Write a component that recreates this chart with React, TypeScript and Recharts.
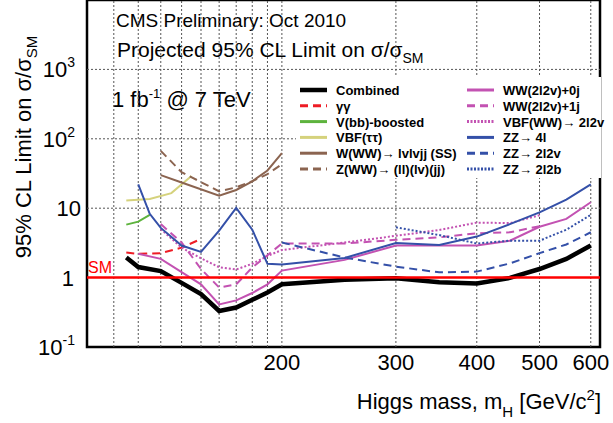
import React from "react";
import {
  LineChart,
  Line,
  XAxis,
  YAxis,
  ReferenceLine,
  ReferenceArea,
  Legend,
  Customized,
} from "recharts";

// Higgs mass points (GeV) and 95% CL limits on sigma/sigma_SM
const combinedMass = [115, 120, 130, 140, 150, 160, 170, 180, 190, 200, 250, 300, 350, 400, 450, 500, 550, 600];
const combinedLimit = [1.95, 1.42, 1.24, 0.84, 0.58, 0.33, 0.37, 0.48, 0.61, 0.8, 0.93, 0.98, 0.86, 0.82, 0.99, 1.33, 1.86, 2.9];

const ggMass = [115, 120, 130, 140, 150];
const ggLimit = [2.3, 2.2, 2.25, 2.7, 3.6];

const vbbMass = [115, 120, 125];
const vbbLimit = [5.8, 6.4, 8.0];

const vbfTauMass = [115, 125, 135, 145];
const vbfTauLimit = [12.9, 13.6, 16.5, 29];

const wwSSMass = [130, 140, 160, 170, 180, 190, 200];
const wwSSLimit = [30, 23.5, 15.2, 18.3, 24.4, 35, 62];

const zwwMass = [130, 140, 160, 170, 180, 190, 200];
const zwwLimit = [67, 33, 17.5, 20, 24.5, 31, 43];

const ww0jMass = [120, 130, 140, 150, 160, 170, 180, 190, 200, 250, 300, 350, 400, 450, 500, 550, 600];
const ww0jLimit = [2.2, 1.86, 1.2, 0.8, 0.41, 0.47, 0.6, 0.8, 1.26, 1.8, 2.9, 2.9, 2.9, 3.4, 5.4, 7.0, 12.2];

const ww1jMass = [130, 140, 150, 160, 170, 180, 190, 200, 250, 300, 350, 400, 450, 500];
const ww1jLimit = [5.9, 3.2, 1.33, 0.72, 0.8, 1.4, 2.1, 3.1, 3.1, 3.5, 3.8, 4.35, 4.5, 5.5];

const vbfWWMass = [130, 140, 150, 160, 170, 180, 190, 200, 250, 300, 350, 400, 450, 500];
const vbfWWLimit = [5.0, 2.7, 1.9, 1.41, 1.31, 1.58, 2.05, 2.5, 3.2, 4.0, 4.85, 6.2, 6.1, 7.9];

const zz4lMass = [120, 125, 130, 140, 150, 160, 170, 180, 190, 200, 250, 300, 350, 400, 450, 500, 550, 600];
const zz4lLimit = [22, 8.3, 5.2, 2.9, 2.35, 4.75, 10.1, 4.9, 1.58, 1.54, 1.92, 3.16, 2.95, 3.9, 5.9, 8.7, 13.3, 22];

const zz2l2vMass = [200, 250, 300, 350, 400, 450, 500, 550, 600];
const zz2l2vLimit = [3.2, 1.95, 1.44, 1.19, 1.22, 1.6, 2.25, 3.0, 4.5];

const zz2l2bMass = [300, 350, 400, 450, 500, 550, 600];
const zz2l2bLimit = [5.3, 4.1, 3.1, 3.4, 3.4, 4.9, 8.0];

// axis ticks and grid
const massTicks = [200, 300, 400, 500, 600];
const gridMass = [110, 120, 130, 140, 150, 160, 170, 180, 190, 200, 300, 400, 500, 600];
const decadeTicks = [0.1, 1, 10, 100, 1000];
const gridLimit = [10, 100, 1000];
const minorTicks = [0.1, 1, 10, 100, 1000].flatMap((d) => [2, 3, 4, 5, 6, 7, 8, 9].map((k) => +(d * k).toPrecision(3)));

const RED = "#ee1c25";
const GREEN = "#5db33d";
const KHAKI = "#d5d27c";
const BROWN = "#8b6450";
const MAGENTA = "#c352b2";
const BLUE = "#3450a8";
const DASH = "8 5";
const DOT = "2 2";

type Series = {
  key: string;
  name: React.ReactNode;
  mass: number[];
  limit: number[];
  color: string;
  width: number;
  dash?: string;
};

const series: Series[] = [
  { key: "combined", name: "Combined", mass: combinedMass, limit: combinedLimit, color: "#000", width: 4.5 },
  { key: "gg", name: "γγ", mass: ggMass, limit: ggLimit, color: RED, width: 2, dash: DASH },
  { key: "vbb", name: "V(bb)-boosted", mass: vbbMass, limit: vbbLimit, color: GREEN, width: 2 },
  { key: "vbftt", name: "VBF(ττ)", mass: vbfTauMass, limit: vbfTauLimit, color: KHAKI, width: 2 },
  { key: "wwss", name: "W(WW)→ lvlvjj (SS)", mass: wwSSMass, limit: wwSSLimit, color: BROWN, width: 2 },
  { key: "zww", name: "Z(WW)→ (ll)(lv)(jj)", mass: zwwMass, limit: zwwLimit, color: BROWN, width: 2, dash: DASH },
  { key: "ww0j", name: "WW(2l2v)+0j", mass: ww0jMass, limit: ww0jLimit, color: MAGENTA, width: 2 },
  { key: "ww1j", name: "WW(2l2v)+1j", mass: ww1jMass, limit: ww1jLimit, color: MAGENTA, width: 2, dash: DASH },
  { key: "vbfww", name: "VBF(WW)→ 2l2v", mass: vbfWWMass, limit: vbfWWLimit, color: MAGENTA, width: 2, dash: DOT },
  { key: "zz4l", name: "ZZ→ 4l", mass: zz4lMass, limit: zz4lLimit, color: BLUE, width: 2 },
  { key: "zz2l2v", name: "ZZ→ 2l2v", mass: zz2l2vMass, limit: zz2l2vLimit, color: BLUE, width: 2, dash: DASH },
  { key: "zz2l2b", name: "ZZ→ 2l2b", mass: zz2l2bMass, limit: zz2l2bLimit, color: BLUE, width: 2, dash: DOT },
];

const FONT = "'Liberation Sans', Arial, Helvetica, sans-serif";

const YTick = (props: any) => {
  const { x, y, payload } = props;
  const v = payload.value;
  const common = { fontFamily: FONT, fontSize: 22, fill: "#000", textAnchor: "end" as const };
  if (v === 1) return <text x={x - 13} y={y + 8} {...common}>1</text>;
  if (v === 10) return <text x={x - 6} y={y + 8} {...common}>10</text>;
  const exp = v === 0.1 ? "-1" : v === 100 ? "2" : "3";
  return (
    <text x={x - 12} y={y + 8} {...common}>
      10
      <tspan dy={-10} fontSize={14}>{exp}</tspan>
    </text>
  );
};

const XTick = (props: any) => {
  const { x, y, payload } = props;
  return (
    <text x={x} y={y + 23} fontFamily={FONT} fontSize={22} textAnchor="middle" fill="#000">
      {payload.value}
    </text>
  );
};

const Annotations = () => (
  <g fontFamily={FONT} fill="#000">
    <text x={116} y={27} fontSize={19}>CMS Preliminary: Oct 2010</text>
    <text x={117} y={57} fontSize={21}>
      Projected 95% CL Limit on σ/σ
      <tspan dy={6} fontSize={14}>SM</tspan>
    </text>
    <text x={112} y={107} fontSize={22}>
      1 fb
      <tspan dy={-9} fontSize={13}>-1</tspan>
      <tspan dy={9}> @ 7 TeV</tspan>
    </text>
    <text x={88} y={273} fontSize={16} fill="#ff0000">SM</text>
    <text x={601} y={409} fontSize={22} textAnchor="end">
      Higgs mass, m
      <tspan dy={8} fontSize={15}>H</tspan>
      <tspan dy={-8}> [GeV/c</tspan>
      <tspan dy={-9} fontSize={15}>2</tspan>
      <tspan dy={9}>]</tspan>
    </text>
    <text x={31} y={147} fontSize={22} textAnchor="middle" transform="rotate(-90 31 147)">
      95% CL Limit on σ/σ
      <tspan dy={6} fontSize={15}>SM</tspan>
    </text>
  </g>
);

const LegendBox = () => {
  const rowY = (i: number) => 13 + i * 15.8;
  return (
    <svg width={305} height={101} style={{ overflow: "visible", display: "block" }}>
      <rect x={0} y={0} width={305} height={101} fill="#fff" />
      {series.map((s, i) => {
        const col = i < 6 ? 0 : 1;
        const row = i % 6;
        const lx = col === 0 ? 4 : 171;
        const y = rowY(row);
        return (
          <g key={s.key}>
            <line
              x1={lx}
              x2={lx + 27}
              y1={y}
              y2={y}
              stroke={s.color}
              strokeWidth={s.key === "combined" ? 4.5 : 3}
              strokeDasharray={s.dash === DOT ? "2 1.5" : s.dash}
            />
            <text x={lx + 36} y={y + 5} fontFamily={FONT} fontSize={13} fontWeight="bold" fill="#000">
              {s.name}
            </text>
          </g>
        );
      })}
    </svg>
  );
};

export default function App() {
  const drawOrder = [...series.slice(1), series[0]];
  return (
    <div style={{ position: "absolute", left: 0, top: 0, width: 613, height: 423, background: "#fff" }}>
      <LineChart width={613} height={423} margin={{ top: 0, right: 13, left: 0, bottom: 0 }}>
        <XAxis
          dataKey="m"
          type="number"
          scale="log"
          domain={[100, 620]}
          allowDataOverflow
          ticks={massTicks}
          tick={<XTick />}
          tickLine={false}
          axisLine={false}
          tickSize={0}
          tickMargin={0}
          height={76}
        />
        <YAxis
          type="number"
          scale="log"
          domain={[0.1, 10000]}
          allowDataOverflow
          ticks={decadeTicks}
          tick={<YTick />}
          tickLine={false}
          axisLine={false}
          tickSize={0}
          tickMargin={0}
          width={87}
        />
        <YAxis yAxisId="majL" type="number" scale="log" domain={[0.1, 10000]} allowDataOverflow ticks={decadeTicks}
          mirror orientation="left" tick={false} axisLine={false} tickSize={9} tickLine={{ stroke: "#000", strokeWidth: 1.2 }} width={0} />
        <YAxis yAxisId="minL" type="number" scale="log" domain={[0.1, 10000]} allowDataOverflow ticks={minorTicks}
          mirror orientation="left" tick={false} axisLine={false} tickSize={5} tickLine={{ stroke: "#000", strokeWidth: 1 }} width={0} />
        <YAxis yAxisId="majR" type="number" scale="log" domain={[0.1, 10000]} allowDataOverflow ticks={decadeTicks}
          mirror orientation="right" tick={false} axisLine={false} tickSize={9} tickLine={{ stroke: "#000", strokeWidth: 1.2 }} width={0} />
        <YAxis yAxisId="minR" type="number" scale="log" domain={[0.1, 10000]} allowDataOverflow ticks={minorTicks}
          mirror orientation="right" tick={false} axisLine={false} tickSize={5} tickLine={{ stroke: "#000", strokeWidth: 1 }} width={0} />

        {gridMass.map((m) => (
          <ReferenceLine key={`gx${m}`} x={m} stroke="#555" strokeWidth={1} strokeDasharray="2 2" />
        ))}
        {gridLimit.map((v) => (
          <ReferenceLine key={`gy${v}`} y={v} stroke="#555" strokeWidth={1} strokeDasharray="2 2" />
        ))}

        {drawOrder.map((s) => (
          <Line
            key={s.key}
            data={s.mass.map((m, i) => ({ m, v: s.limit[i] }))}
            dataKey="v"
            type="linear"
            stroke={s.color}
            strokeWidth={s.width}
            strokeDasharray={s.dash}
            dot={false}
            activeDot={false}
            isAnimationActive={false}
          />
        ))}

        <ReferenceLine y={1} stroke="#ff0000" strokeWidth={2.5} />
        <ReferenceArea x1={100} x2={620} y1={0.1} y2={10000} fill="none" stroke="#000" strokeWidth={2.5} />
        <Customized component={Annotations} />
        <Legend
          layout="vertical"
          align="center"
          verticalAlign="middle"
          content={() => <LegendBox />}
          wrapperStyle={{ position: "absolute", left: 296, top: 77, width: 305, height: 101 }}
        />
      </LineChart>
    </div>
  );
}
